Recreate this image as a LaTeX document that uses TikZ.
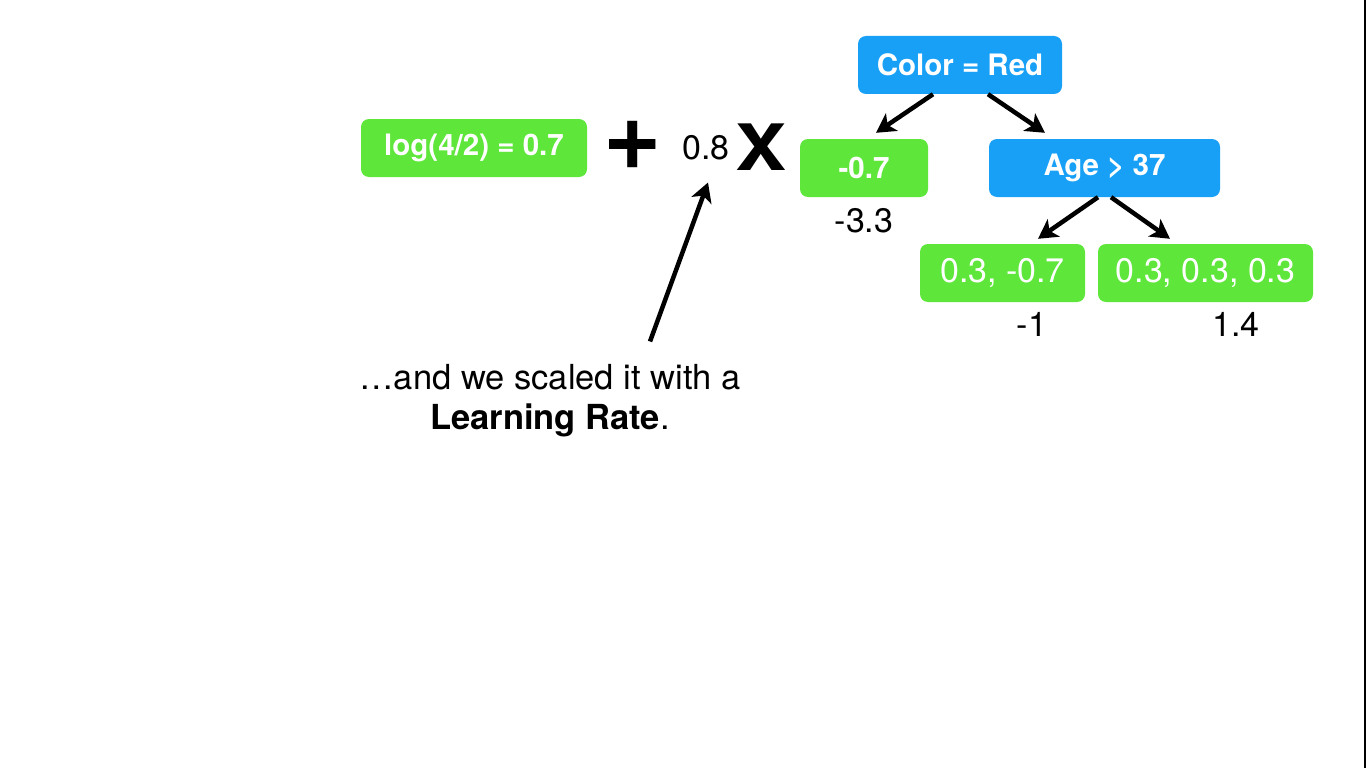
\documentclass[tikz,border=0pt]{standalone}
\usepackage{fontspec}
\setmainfont{TeX Gyre Heros}
\usepackage{xcolor}
\usetikzlibrary{arrows.meta,positioning}
\definecolor{leafgreen}{RGB}{94,230,58}
\definecolor{splitblue}{RGB}{24,160,246}

\begin{document}
\begin{tikzpicture}[x=1pt,y=-1pt,
    box/.style={rounded corners=8pt, text=white, inner sep=0pt, minimum height=58pt},
    leaf/.style={box, fill=leafgreen, font=\fontsize{34}{40}\selectfont},
    boldleaf/.style={box, fill=leafgreen, font=\fontsize{29.5}{35}\selectfont\bfseries},
    split/.style={box, fill=splitblue, font=\fontsize{29.5}{35}\selectfont\bfseries},
    num/.style={inner sep=0pt, font=\fontsize{34}{40}\selectfont},
    arr/.style={-{Stealth[length=19pt,width=21pt,inset=5pt]}, line width=4.5pt}]
          % Frame
          \useasboundingbox (0,0) rectangle (1366,768);
          \fill[white] (0,0) rectangle (1366,768);
          \fill[black] (1364,0) rectangle (1366,768);
          % Initial prediction plus scaled tree
          \node[boldleaf, minimum width=226pt] (base) at (474,148) {log(4/2) = 0.7};
          \node[inner sep=0pt, font=\fontsize{100}{100}\selectfont\bfseries] (plus) at (633,145) {+};
          \node[num] (rate) at (706,148) {0.8};
          \node[inner sep=0pt, font=\fontsize{64}{64}\selectfont\bfseries] (times) at (761,147) {\scalebox{1.2}[1]{X}};
          % Tree
          \node[split, minimum width=204pt] (color) at (960,65) {Color = Red};
          \node[boldleaf, minimum width=128pt] (notred) at (864,168) {-0.7};
          \node[split, minimum width=231pt] (age) at (1104.5,168) {Age > 37};
          \node[leaf, minimum width=165pt] (young) at (1002.5,273) {0.3, -0.7};
          \node[leaf, minimum width=215pt] (old) at (1205.5,273) {0.3, 0.3, 0.3};
          % Leaf outputs
          \node[num, below=11pt of notred] (outA) {-3.3};
          \node[num] (outB) at (1032,324) {-1};
          \node[num] (outC) at (1236,324) {1.4};
          % Branches
          \draw[arr] ([xshift=-27pt]color.south) -- ([xshift=12pt,yshift=6pt]notred.north);
          \draw[arr] ([xshift=28pt]color.south) -- ([xshift=-59.5pt,yshift=6pt]age.north);
          \draw[arr] ([xshift=-6.5pt]age.south) -- ([xshift=35.5pt,yshift=5pt]young.north);
          \draw[arr] ([xshift=6.5pt]age.south) -- ([xshift=-35.5pt,yshift=5pt]old.north);
          % Caption
          \node[num, align=center, font=\fontsize{34.5}{40}\selectfont] (note) at (550,401) {\ldots and we scaled it with a\\\textbf{Learning Rate}.};
          \draw[arr] ([xshift=100pt,yshift=23pt]note.north) -- ([xshift=2pt,yshift=-22pt]rate.south);
\end{tikzpicture}
\end{document}
